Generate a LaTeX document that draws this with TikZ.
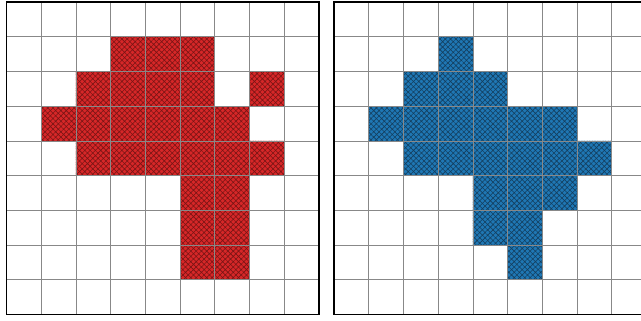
\documentclass[tikz,border=0pt]{standalone}
\usetikzlibrary{patterns.meta}
\definecolor{cellred}{HTML}{D62728}
\definecolor{cellblue}{HTML}{1F77B4}
\definecolor{hatchred}{HTML}{7A1515}
\definecolor{hatchblue}{HTML}{143F5F}
\definecolor{gridgray}{HTML}{888888}
\tikzset{
  hatchcell/.style={pattern={Hatch[angle=45,distance=3.2pt,line width=0.5pt]}},
  gridline/.style={draw=gridgray,line width=0.6pt},
  frame/.style={draw=black,line width=1.5pt}
}
\def\redcells{3/1,4/1,5/1,2/2,3/2,4/2,5/2,7/2,1/3,2/3,3/3,4/3,5/3,6/3,
  2/4,3/4,4/4,5/4,6/4,7/4,5/5,6/5,5/6,6/6,5/7,6/7}
\def\bluecells{3/1,2/2,3/2,4/2,1/3,2/3,3/3,4/3,5/3,6/3,
  2/4,3/4,4/4,5/4,6/4,7/4,4/5,5/5,6/5,4/6,5/6,5/7}

\begin{document}
\begin{tikzpicture}[x=1.0417cm,y=-1.0417cm]
  \useasboundingbox (-0.187,-0.058) rectangle (18.275,9.159);
  \clip (-0.187,-0.058) rectangle (18.275,9.159);
  % left panel
  \fill[cellred] \foreach \c/\r in \redcells {(\c,\r) rectangle ++(1,1)};
  \fill[hatchcell,pattern color=hatchred] \foreach \c/\r in \redcells {(\c,\r) rectangle ++(1,1)};
  \foreach \i in {1,...,8}{
    \draw[gridline] (\i,0) -- (\i,9);
    \draw[gridline] (0,\i) -- (9,\i);
  }
  \draw[frame] (0,0) rectangle (9,9);
  % right panel
  \begin{scope}[shift={(9.433,0)}]
    \fill[cellblue] \foreach \c/\r in \bluecells {(\c,\r) rectangle ++(1,1)};
    \fill[hatchcell,pattern color=hatchblue] \foreach \c/\r in \bluecells {(\c,\r) rectangle ++(1,1)};
    \foreach \i in {1,...,8}{
      \draw[gridline] (\i,0) -- (\i,9);
      \draw[gridline] (0,\i) -- (9,\i);
    }
    \draw[frame] (0,0) rectangle (9,9);
  \end{scope}
\end{tikzpicture}
\end{document}
